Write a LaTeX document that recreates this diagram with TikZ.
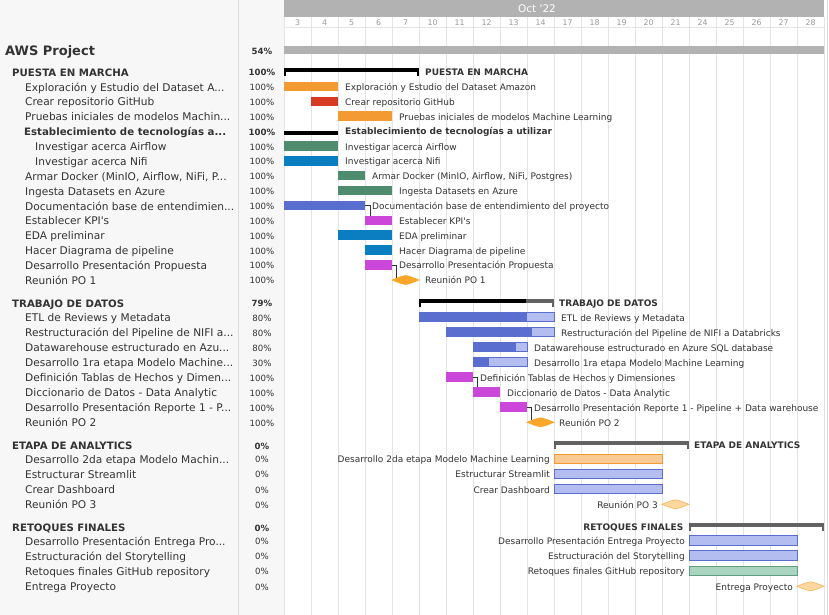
\documentclass[tikz,border=0pt]{standalone}
\usepackage{fontspec}
\setmainfont{DejaVu Sans}
\usetikzlibrary{calc}
\definecolor{panel}{HTML}{F7F7F7}
\definecolor{sepc}{HTML}{DDDDDD}
\definecolor{band}{HTML}{B2B2B2}
\definecolor{gridc}{HTML}{E4E4E4}
\definecolor{txt}{HTML}{333333}
\definecolor{daytxt}{HTML}{9A9A9A}
\definecolor{orng}{HTML}{F39A33}
\definecolor{redc}{HTML}{D63A23}
\definecolor{grn}{HTML}{4F8B6F}
\definecolor{blu}{HTML}{0B7DC1}
\definecolor{ind}{HTML}{5A6ECF}
\definecolor{mag}{HTML}{CC47D9}
\definecolor{lind}{HTML}{B4BDF0}
\definecolor{lorng}{HTML}{F9CA93}
\definecolor{lgrn}{HTML}{A9D5C0}
\definecolor{dgrn}{HTML}{5E9D7E}
\definecolor{mst}{HTML}{F9A62A}
\definecolor{lmst}{HTML}{FDD79E}
\definecolor{lmstb}{HTML}{F6B55E}
\definecolor{hgray}{HTML}{626262}

% left panel labels
\newcommand\GL[4]{\node[ltext] (#1) at (#2,#3+3.9) {#4};}
\newcommand\GLH[4]{\node[lhead] (#1) at (#2,#3+3.6) {#4};}
\newcommand\GP[3]{\node[ptext] (#1) at (262,#2+3.3) {#3};}
\newcommand\GPB[3]{\node[pbold] (#1) at (262,#2+3.3) {#3};}
% chart labels
\newcommand\GC[4]{\node[ctext] (#1) at (#2,#3+3.3) {#4};}
\newcommand\GCR[4]{\node[ctext, anchor=base east] (#1) at (#2,#3+3.3) {#4};}
\newcommand\GCH[4]{\node[chead] (#1) at (#2,#3+3.1) {#4};}
\newcommand\GCHR[4]{\node[chead, anchor=base east] (#1) at (#2,#3+3.1) {#4};}
% bars
\newcommand\GBar[6]{\node[taskbar, fill=#5, minimum width={(#3-#2)*1pt}, #6] (#1) at (#2,#4-0.7) {};}
\newcommand\GProg[5]{%
  \node[taskbar, fill=lind, minimum width={(#3-#2)*1pt}] (#1) at (#2,#4-0.7) {};
  \fill[ind] (#1.south west) rectangle ($(#1.north west)!#5!(#1.north east)$);
  \draw[ind, line width=0.8pt] (#1.south west) rectangle (#1.north east);}
\newcommand\GHead[7]{%
  \node[inner sep=0, outer sep=0, minimum width={(#3-#2)*1pt}, minimum height=4.3pt, fill=hgray, anchor=north west] (#1) at (#2,#4-4.6) {};
  \fill[black] (#1.north west) rectangle ($(#1.south west)!#5!(#1.south east)$);
  \fill[#6] (#1.south west) rectangle ++(1.6,3.8);
  \fill[#7] (#1.south east) rectangle ++(-1.6,3.8);}
\newcommand\GMile[5]{%
  \node[inner sep=0, outer sep=0, minimum width=27pt, minimum height=9pt, anchor=west] (#1) at (#2,#3-0.5) {};
  \filldraw[fill=#4, draw=#5, line width=0.6pt] (#1.west)
    -- ($(#1.north west)!0.3!(#1.north east)+(0,1.3)$)
    -- ($(#1.north west)!0.5!(#1.north east)$)
    -- ($(#1.north west)!0.7!(#1.north east)+(0,1.3)$)
    -- (#1.east)
    -- ($(#1.south west)!0.7!(#1.south east)+(0,-1.3)$)
    -- ($(#1.south west)!0.5!(#1.south east)$)
    -- ($(#1.south west)!0.3!(#1.south east)+(0,-1.3)$)
    -- cycle;}

\begin{document}
\begin{tikzpicture}[x=1pt,y=-1pt,
  ltext/.style={font=\fontsize{10.6}{12}\selectfont, text=txt, inner sep=0, anchor=base west},
  lhead/.style={font=\fontsize{10.2}{12}\selectfont\bfseries, text=txt, inner sep=0, anchor=base west},
  ptext/.style={font=\fontsize{8.6}{10}\selectfont, text=txt, inner sep=0, anchor=base},
  pbold/.style={font=\fontsize{8.6}{10}\selectfont\bfseries, text=txt, inner sep=0, anchor=base},
  ctext/.style={font=\fontsize{9}{11}\selectfont, text=txt, inner sep=0, anchor=base west},
  chead/.style={font=\fontsize{9}{11}\selectfont\bfseries, text=txt, inner sep=0, anchor=base west},
  taskbar/.style={inner sep=0, outer sep=0, minimum height=9.5pt, anchor=west},
  gridline/.style={draw=gridc, line width=0.8pt},
  conn/.style={draw=txt, line width=0.8pt},
  daynum/.style={font=\fontsize{7.8}{9}\selectfont, text=daytxt, inner sep=0, anchor=base}]
\useasboundingbox (0,0) rectangle (829,615);

% backgrounds
\fill[panel] (0,0) rectangle (284,615);
\draw[sepc, line width=0.8pt] (238.5,0) -- (238.5,615);
\fill[white] (284,0) rectangle (829,615);
\draw[sepc, line width=0.8pt] (827.5,0) -- (827.5,615);

% header
\fill[band] (284,0) rectangle (824,17);
\node[font=\fontsize{10.5}{12}\selectfont, text=white, inner sep=0, anchor=base] (month) at (537,12.7) {Oct \textquotesingle22};
\foreach \i in {0,...,20} \draw[gridline] (284+27*\i,17) -- (284+27*\i,615);
\draw[gridline] (284,27) -- (824,27);
\draw[gridline] (284,46) -- (824,46);
\foreach \d [count=\i from 0] in {3,4,5,6,7,10,11,12,13,14,17,18,19,20,21,24,25,26,27,28}
  \node[daynum] (d\i) at (297.5+27*\i,25.7) {\d};

% project
\node[inner sep=0, outer sep=0, fill=band, minimum width=540pt, minimum height=7.8pt, anchor=north west] (awsbar) at (284,46.5) {};
\node[font=\fontsize{13}{15}\selectfont\bfseries, text=txt, inner sep=0, anchor=base west] (aws) at (5,55.7) {AWS Project};
\GPB{paws}{51}{54\%}

% ---------- Section 1 ----------
\GLH{lh1}{12}{72.5}{PUESTA EN MARCHA} \GPB{ph1}{72.5}{100\%}
\GL{l1}{25}{87.2}{Exploración y Estudio del Dataset A...} \GP{p1}{87.2}{100\%}
\GL{l2}{25}{102.1}{Crear repositorio GitHub} \GP{p2}{102.1}{100\%}
\GL{l3}{25}{116.9}{Pruebas iniciales de modelos Machin...} \GP{p3}{116.9}{100\%}
\GLH{l4}{24}{131.8}{Establecimiento de tecnologías a...} \GPB{p4}{131.8}{100\%}
\GL{l5}{35}{146.7}{Investigar acerca Airflow} \GP{p5}{146.7}{100\%}
\GL{l6}{35}{161.6}{Investigar acerca Nifi} \GP{p6}{161.6}{100\%}
\GL{l7}{25}{176.4}{Armar Docker (MinIO, Airflow, NiFi, P...} \GP{p7}{176.4}{100\%}
\GL{l8}{25}{191.3}{Ingesta Datasets en Azure} \GP{p8}{191.3}{100\%}
\GL{l9}{25}{206.2}{Documentación base de entendimien...} \GP{p9}{206.2}{100\%}
\GL{l10}{25}{221.0}{Establecer KPI\textquotesingle s} \GP{p10}{221.0}{100\%}
\GL{l11}{25}{235.9}{EDA preliminar} \GP{p11}{235.9}{100\%}
\GL{l12}{25}{250.8}{Hacer Diagrama de pipeline} \GP{p12}{250.8}{100\%}
\GL{l13}{25}{265.6}{Desarrollo Presentación Propuesta} \GP{p13}{265.6}{100\%}
\GL{l14}{25}{280.5}{Reunión PO 1} \GP{p14}{280.5}{100\%}

\GHead{h1}{284}{419}{72.5}{1}{black}{black}
\GCH{ch1}{425}{72.5}{PUESTA EN MARCHA}
\GBar{b1}{284}{338}{87.2}{orng}{} \GC{c1}{345}{87.2}{Exploración y Estudio del Dataset Amazon}
\GBar{b2}{311}{338}{102.1}{redc}{} \GC{c2}{345}{102.1}{Crear repositorio GitHub}
\GBar{b3}{338}{392}{116.9}{orng}{} \GC{c3}{399}{116.9}{Pruebas iniciales de modelos Machine Learning}
\node[inner sep=0, outer sep=0, fill=black, minimum width=54pt, minimum height=4pt, anchor=north west] (b4) at (284,131) {};
\GCH{c4}{345}{131.8}{Establecimiento de tecnologías a utilizar}
\GBar{b5}{284}{338}{146.7}{grn}{} \GC{c5}{345}{146.7}{Investigar acerca Airflow}
\GBar{b6}{284}{338}{161.6}{blu}{} \GC{c6}{345}{161.6}{Investigar acerca Nifi}
\GBar{b7}{338}{365}{176.4}{grn}{} \GC{c7}{372}{176.4}{Armar Docker (MinIO, Airflow, NiFi, Postgres)}
\GBar{b8}{338}{392}{191.3}{grn}{} \GC{c8}{399}{191.3}{Ingesta Datasets en Azure}
\GBar{b9}{284}{365}{206.2}{ind}{} \GC{c9}{372}{206.2}{Documentación base de entendimiento del proyecto}
\GBar{b10}{365}{392}{221.0}{mag}{} \GC{c10}{399}{221.0}{Establecer KPI\textquotesingle s}
\GBar{b11}{338}{392}{235.9}{blu}{} \GC{c11}{399}{235.9}{EDA preliminar}
\GBar{b12}{365}{392}{250.8}{blu}{} \GC{c12}{399}{250.8}{Hacer Diagrama de pipeline}
\GBar{b13}{365}{392}{265.6}{mag}{} \GC{c13}{399}{265.6}{Desarrollo Presentación Propuesta}
\draw[conn] (b9.east) -| ([xshift=5pt]b10.north west);
\draw[conn] (b13.east) -| ([xshift=4.5pt]b13.east |- 0,279);
\GMile{m14}{392}{280.5}{mst}{mst} \GC{c14}{425}{280.5}{Reunión PO 1}

% ---------- Section 2 ----------
\GLH{lh2}{12}{303.5}{TRABAJO DE DATOS} \GPB{ph2}{303.5}{79\%}
\GL{t1l}{25}{317.8}{ETL de Reviews y Metadata} \GP{t1p}{317.8}{80\%}
\GL{t2l}{25}{332.8}{Restructuración del Pipeline de NIFI a...} \GP{t2p}{332.8}{80\%}
\GL{t3l}{25}{347.8}{Datawarehouse estructurado en Azu...} \GP{t3p}{347.8}{80\%}
\GL{t4l}{25}{362.8}{Desarrollo 1ra etapa Modelo Machine...} \GP{t4p}{362.8}{30\%}
\GL{t5l}{25}{377.8}{Definición Tablas de Hechos y Dimen...} \GP{t5p}{377.8}{100\%}
\GL{t6l}{25}{392.8}{Diccionario de Datos - Data Analytic} \GP{t6p}{392.8}{100\%}
\GL{t7l}{25}{407.8}{Desarrollo Presentación Reporte 1 - P...} \GP{t7p}{407.8}{100\%}
\GL{t8l}{25}{422.8}{Reunión PO 2} \GP{t8p}{422.8}{100\%}

\GHead{h2}{419}{554}{303.5}{0.79}{black}{hgray}
\GCH{ch2}{559}{303.5}{TRABAJO DE DATOS}
\GProg{t1}{419}{554}{317.8}{0.8} \GC{t1c}{561}{317.8}{ETL de Reviews y Metadata}
\GProg{t2}{446}{554}{332.8}{0.8} \GC{t2c}{561}{332.8}{Restructuración del Pipeline de NIFI a Databricks}
\GProg{t3}{473}{527}{347.8}{0.8} \GC{t3c}{534}{347.8}{Datawarehouse estructurado en Azure SQL database}
\GProg{t4}{473}{527}{362.8}{0.3} \GC{t4c}{534}{362.8}{Desarrollo 1ra etapa Modelo Machine Learning}
\GBar{t5}{446}{473}{377.8}{mag}{} \GC{t5c}{480}{377.8}{Definición Tablas de Hechos y Dimensiones}
\GBar{t6}{473}{500}{392.8}{mag}{} \GC{t6c}{507}{392.8}{Diccionario de Datos - Data Analytic}
\GBar{t7}{500}{527}{407.8}{mag}{} \GC{t7c}{534}{407.8}{Desarrollo Presentación Reporte 1 - Pipeline + Data warehouse}
\draw[conn] (t5.east) -| ([xshift=4.5pt]t6.north west);
\draw[conn] (t7.east) -| ([xshift=4pt]t7.east |- 0,421);
\GMile{t8}{527}{422.8}{mst}{mst} \GC{t8c}{559}{422.8}{Reunión PO 2}

% ---------- Section 3 ----------
\GLH{lh3}{12}{445.7}{ETAPA DE ANALYTICS} \GPB{ph3}{445.7}{0\%}
\GL{a1l}{25}{459.5}{Desarrollo 2da etapa Modelo Machin...} \GP{a1p}{459.5}{0\%}
\GL{a2l}{25}{474.6}{Estructurar Streamlit} \GP{a2p}{474.6}{0\%}
\GL{a3l}{25}{489.7}{Crear Dashboard} \GP{a3p}{489.7}{0\%}
\GL{a4l}{25}{504.8}{Reunión PO 3} \GP{a4p}{504.8}{0\%}

\GHead{h3}{554}{689}{445.7}{0}{hgray}{hgray}
\GCH{ch3}{694}{445.7}{ETAPA DE ANALYTICS}
\GBar{a1}{554}{662}{459.5}{lorng}{draw=orng, line width=0.8pt} \GCR{a1c}{550}{459.5}{Desarrollo 2da etapa Modelo Machine Learning}
\GBar{a2}{554}{662}{474.6}{lind}{draw=ind, line width=0.8pt} \GCR{a2c}{550}{474.6}{Estructurar Streamlit}
\GBar{a3}{554}{662}{489.7}{lind}{draw=ind, line width=0.8pt} \GCR{a3c}{550}{489.7}{Crear Dashboard}
\GMile{a4}{662}{504.8}{lmst}{lmstb} \GCR{a4c}{658}{504.8}{Reunión PO 3}

% ---------- Section 4 ----------
\GLH{lh4}{12}{527.7}{RETOQUES FINALES} \GPB{ph4}{527.7}{0\%}
\GL{r1l}{25}{541.1}{Desarrollo Presentación Entrega Pro...} \GP{r1p}{541.1}{0\%}
\GL{r2l}{25}{556.3}{Estructuración del Storytelling} \GP{r2p}{556.3}{0\%}
\GL{r3l}{25}{571.5}{Retoques finales GitHub repository} \GP{r3p}{571.5}{0\%}
\GL{r4l}{25}{586.8}{Entrega Proyecto} \GP{r4p}{586.8}{0\%}

\GHead{h4}{689}{824}{527.7}{0}{hgray}{hgray}
\GCHR{ch4}{683.5}{527.7}{RETOQUES FINALES}
\GBar{r1}{689}{797}{541.1}{lind}{draw=ind, line width=0.8pt} \GCR{r1c}{685}{541.1}{Desarrollo Presentación Entrega Proyecto}
\GBar{r2}{689}{797}{556.3}{lind}{draw=ind, line width=0.8pt} \GCR{r2c}{685}{556.3}{Estructuración del Storytelling}
\GBar{r3}{689}{797}{571.5}{lgrn}{draw=dgrn, line width=0.8pt} \GCR{r3c}{685}{571.5}{Retoques finales GitHub repository}
\GMile{r4}{797}{586.8}{lmst}{lmstb} \GCR{r4c}{793}{586.8}{Entrega Proyecto}
\end{tikzpicture}
\end{document}
